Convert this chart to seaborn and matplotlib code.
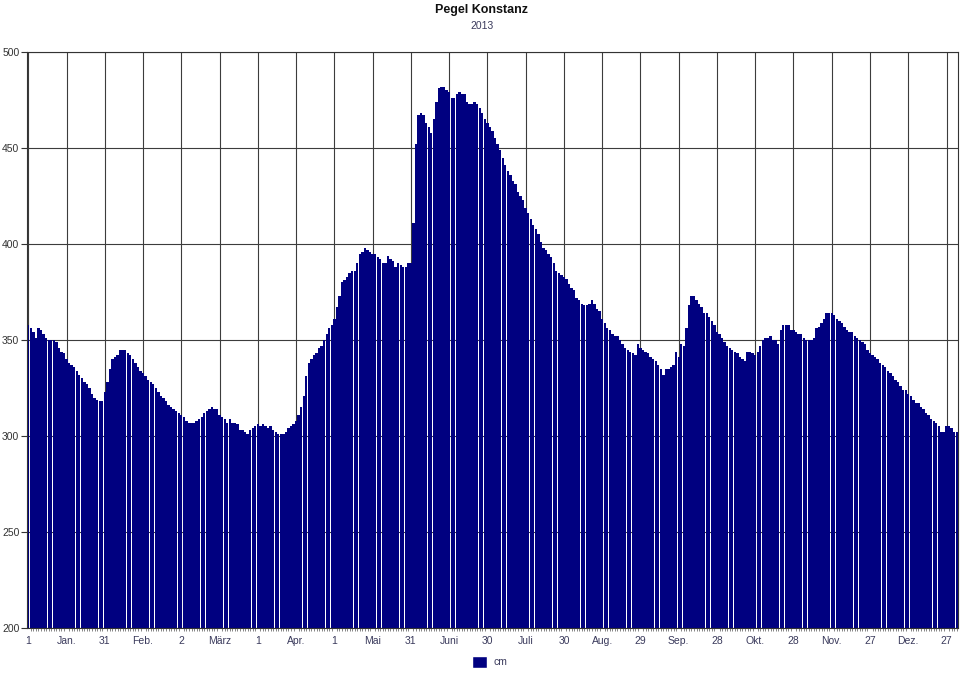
# Pegel Konstanz 2013 - daily lake level as a bar chart

import numpy as np
import pandas as pd
import matplotlib
matplotlib.use('Agg')
import matplotlib.pyplot as plt
from matplotlib.patches import Patch
import seaborn as sns

# daily water level in cm (one list per month)
jan = [358, 356, 354, 351, 356, 355, 353, 351, 350, 350, 350, 349, 346, 344, 343, 340,
       338, 337, 336, 334, 332, 330, 328, 327, 325, 322, 320, 319, 318, 318, 323]
feb = [328, 335, 340, 341, 342, 345, 345, 345, 343, 342, 340, 338, 336, 334, 333, 331,
       329, 328, 327, 325, 323, 321, 320, 318, 316, 315, 314, 313]
mar = [312, 311, 310, 308, 307, 307, 307, 308, 309, 310, 312, 313, 314, 315, 314, 314,
       311, 310, 309, 307, 309, 307, 307, 306, 303, 303, 302, 301, 303, 304, 305]
apr = [306, 305, 306, 305, 304, 305, 303, 302, 301, 301, 301, 302, 304, 305, 306, 308,
       311, 315, 321, 331, 338, 340, 342, 343, 346, 347, 350, 353, 356, 358]
may = [361, 367, 373, 380, 381, 383, 385, 386, 386, 390, 395, 396, 398, 397, 396, 395,
       395, 393, 392, 390, 390, 394, 392, 391, 388, 390, 389, 388, 388, 390, 390]
jun = [411, 452, 467, 468, 467, 463, 461, 458, 465, 474, 481, 482, 482, 480, 479, 476,
       476, 478, 479, 478, 478, 474, 473, 473, 474, 473, 471, 468, 465, 463]
jul = [461, 459, 455, 452, 449, 445, 441, 438, 436, 433, 431, 427, 425, 423, 419, 416,
       413, 410, 408, 405, 401, 398, 397, 395, 393, 390, 386, 385, 384, 383, 382]
aug = [379, 377, 376, 372, 371, 369, 368, 368, 369, 371, 369, 366, 365, 361, 359, 356,
       355, 353, 352, 352, 350, 348, 346, 345, 344, 343, 342, 348, 346, 345, 344]
sep = [343, 341, 340, 339, 337, 335, 332, 335, 335, 336, 337, 344, 341, 348, 347, 356,
       368, 373, 373, 371, 369, 367, 364, 364, 362, 360, 358, 354, 353, 351]
okt = [349, 347, 346, 345, 344, 343, 341, 340, 339, 344, 344, 343, 342, 344, 347, 350,
       351, 351, 352, 350, 350, 348, 355, 358, 358, 358, 355, 355, 354, 353, 353]
nov = [351, 350, 350, 350, 351, 356, 357, 359, 361, 364, 364, 364, 363, 361, 360, 359,
       357, 355, 354, 354, 352, 351, 350, 349, 348, 345, 343, 342, 341, 340]
dez = [338, 337, 336, 334, 333, 331, 329, 328, 326, 324, 324, 322, 321, 319, 317, 317,
       315, 314, 312, 311, 309, 308, 307, 305, 302, 302, 305, 305, 304, 302, 302]

tick_labels = ['1', 'Jan.', '31', 'Feb.', '2', 'März', '1', 'Apr.', '1', 'Mai',
               '31', 'Juni', '30', 'Juli', '30', 'Aug.', '29', 'Sep.', '28', 'Okt.',
               '28', 'Nov.', '27', 'Dez.', '27']

levels = jan + feb + mar + apr + may + jun + jul + aug + sep + okt + nov + dez
df = pd.DataFrame({'tag': np.arange(len(levels)), 'cm': levels})

BAR = '#000080'

sns.set_style('white')
plt.rcParams['font.family'] = ['Liberation Sans', 'DejaVu Sans']

fig = plt.figure(figsize=(9.6, 6.74), dpi=100)
ax = fig.add_axes([27 / 960, 1 - 628 / 674, 931 / 960, 576 / 674])

sns.barplot(data=df, x='tag', y='cm', color=BAR, saturation=1, width=0.92,
            native_scale=True, errorbar=None, linewidth=0, ax=ax)

ax.set_xlim(-0.5, len(levels) - 0.5)
ax.set_ylim(200, 500)
ax.set_xlabel('')
ax.set_ylabel('')

# ticks every 15 days, a small tick for every day
ax.set_xticks(np.arange(0, len(levels), 15))
ax.set_xticklabels(tick_labels)
ax.set_xticks(np.arange(len(levels)), minor=True)
ax.set_yticks(np.arange(200, 501, 50))

ax.tick_params(axis='x', which='major', length=0, pad=6, labelsize=7.5, labelcolor='#3a3a5c')
ax.tick_params(axis='x', which='minor', bottom=True, length=2, width=0.5, color='#555555')
ax.tick_params(axis='y', which='major', left=True, length=4, width=0.8, color='#333333',
               pad=1.5, labelsize=7.5, labelcolor='#333333')

ax.grid(True, which='major', color='#3c3c3c', linewidth=0.8)
ax.set_axisbelow(True)
for side in ax.spines.values():
    side.set_color('#333333')
    side.set_linewidth(0.8)

fig.text(0.502, 1 - 10 / 674, 'Pegel Konstanz', ha='center', va='center',
         fontsize=9, fontweight='bold', color='#111111')
fig.text(0.502, 1 - 26 / 674, '2013', ha='center', va='center',
         fontsize=7.5, color='#3a3a5c')

fig.legend(handles=[Patch(facecolor=BAR, label='cm')], loc='center',
           bbox_to_anchor=(0.51, 1 - 662 / 674), frameon=False, fontsize=7.5,
           handlelength=1.4, handleheight=1.3, handletextpad=0.6,
           labelcolor='#3a3a5c')

fig.savefig('out.png', dpi=100)
